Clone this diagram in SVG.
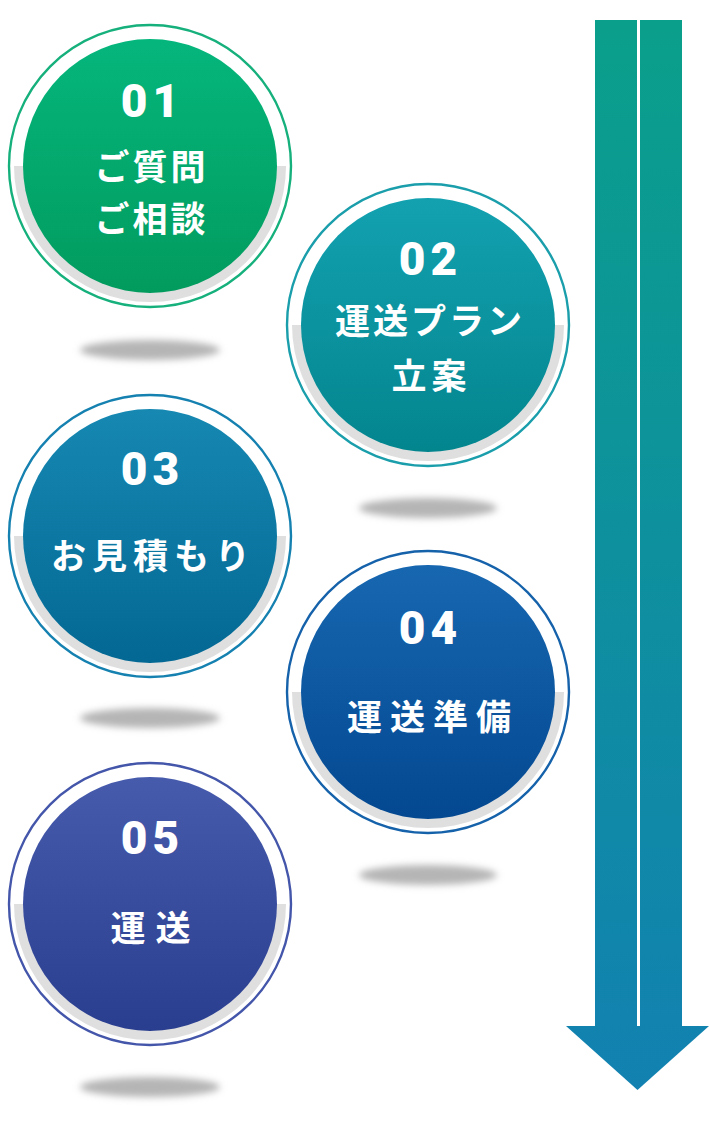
<svg xmlns="http://www.w3.org/2000/svg" width="710" height="1129" viewBox="0 0 710 1129">
<style>
.num{font-family:Roboto,"Liberation Sans",sans-serif;font-weight:900;font-size:46px;fill:#fff;text-anchor:middle;letter-spacing:5px}
.jp{font-family:"Noto Sans CJK JP","Noto Sans",sans-serif;font-weight:700;font-size:35px;fill:#fff;text-anchor:middle}
.band{fill:#dfdfdf}
.shadow{fill:#b5b5b5;filter:url(#blur)}
.ring{fill:#fff;stroke-width:2.4}
</style>
<defs>
<filter id="blur" x="-30%" y="-100%" width="160%" height="300%"><feGaussianBlur stdDeviation="3.5"/></filter>
<linearGradient id="g1" x1="0" y1="0" x2="0" y2="1"><stop offset="0" stop-color="#05b67c"/><stop offset="1" stop-color="#029b5e"/></linearGradient>
<linearGradient id="g2" x1="0" y1="0" x2="0" y2="1"><stop offset="0" stop-color="#13a1b0"/><stop offset="1" stop-color="#03858e"/></linearGradient>
<linearGradient id="g3" x1="0" y1="0" x2="0" y2="1"><stop offset="0" stop-color="#1688b2"/><stop offset="1" stop-color="#036893"/></linearGradient>
<linearGradient id="g4" x1="0" y1="0" x2="0" y2="1"><stop offset="0" stop-color="#1767b0"/><stop offset="1" stop-color="#034891"/></linearGradient>
<linearGradient id="g5" x1="0" y1="0" x2="0" y2="1"><stop offset="0" stop-color="#475bad"/><stop offset="1" stop-color="#2a3e8f"/></linearGradient>
<linearGradient id="ga" gradientUnits="userSpaceOnUse" x1="640" y1="20" x2="620" y2="1090"><stop offset="0" stop-color="#0a9f8b"/><stop offset="1" stop-color="#1281b1"/></linearGradient>
</defs>

<g id="arrow">
<path d="M595 20 H637 V1026 H595 Z" fill="url(#ga)"/>
<path d="M640 20 H682 V1026 H640 Z" fill="url(#ga)"/>
<path d="M566 1026 H637 V1026 H640 H709 L637.5 1090 Z" fill="url(#ga)"/>
<rect x="637" y="1000" width="3" height="26" fill="#fff"/>
</g>

<g id="step1">
<ellipse class="shadow" cx="150" cy="350" rx="70" ry="10"/>
<circle class="ring" cx="150" cy="166" r="141" stroke="#16b07c"/>
<path class="band" d="M14 166 A136 136 0 0 0 286 166 Z"/>
<circle cx="150" cy="166" r="127" fill="url(#g1)"/>
<text class="num" x="152.5" y="117">01</text>
<text class="jp" x="151.5" y="180" letter-spacing="3">ご質問</text>
<text class="jp" x="151.5" y="232" letter-spacing="3">ご相談</text>
</g>

<g id="step2">
<ellipse class="shadow" cx="428" cy="508" rx="69" ry="10"/>
<circle class="ring" cx="428" cy="325" r="141" stroke="#1a9eab"/>
<path class="band" d="M292 325 A136 136 0 0 0 564 325 Z"/>
<circle cx="428" cy="325" r="127" fill="url(#g2)"/>
<text class="num" x="430.5" y="275">02</text>
<text class="jp" x="430" y="334" letter-spacing="3">運送プラン</text>
<text class="jp" x="431.5" y="389" letter-spacing="5">立案</text>
</g>

<g id="step3">
<ellipse class="shadow" cx="150" cy="718" rx="70" ry="10"/>
<circle class="ring" cx="150" cy="536" r="141" stroke="#1581b0"/>
<path class="band" d="M14 536 A136 136 0 0 0 286 536 Z"/>
<circle cx="150" cy="536" r="127" fill="url(#g3)"/>
<text class="num" x="152.5" y="485">03</text>
<text class="jp" x="153.5" y="569" letter-spacing="6">お見積もり</text>
</g>

<g id="step4">
<ellipse class="shadow" cx="428" cy="875" rx="69" ry="10"/>
<circle class="ring" cx="428" cy="692" r="141" stroke="#1562ab"/>
<path class="band" d="M292 692 A136 136 0 0 0 564 692 Z"/>
<circle cx="428" cy="692" r="127" fill="url(#g4)"/>
<text class="num" x="430.5" y="644">04</text>
<text class="jp" x="433" y="730" letter-spacing="8" font-size="37">運送準備</text>
</g>

<g id="step5">
<ellipse class="shadow" cx="150" cy="1087" rx="70" ry="10"/>
<circle class="ring" cx="150" cy="904" r="141" stroke="#4456aa"/>
<path class="band" d="M14 904 A136 136 0 0 0 286 904 Z"/>
<circle cx="150" cy="904" r="127" fill="url(#g5)"/>
<text class="num" x="152.5" y="854">05</text>
<text class="jp" x="155.5" y="941" letter-spacing="10" font-size="37">運送</text>
</g>
</svg>
